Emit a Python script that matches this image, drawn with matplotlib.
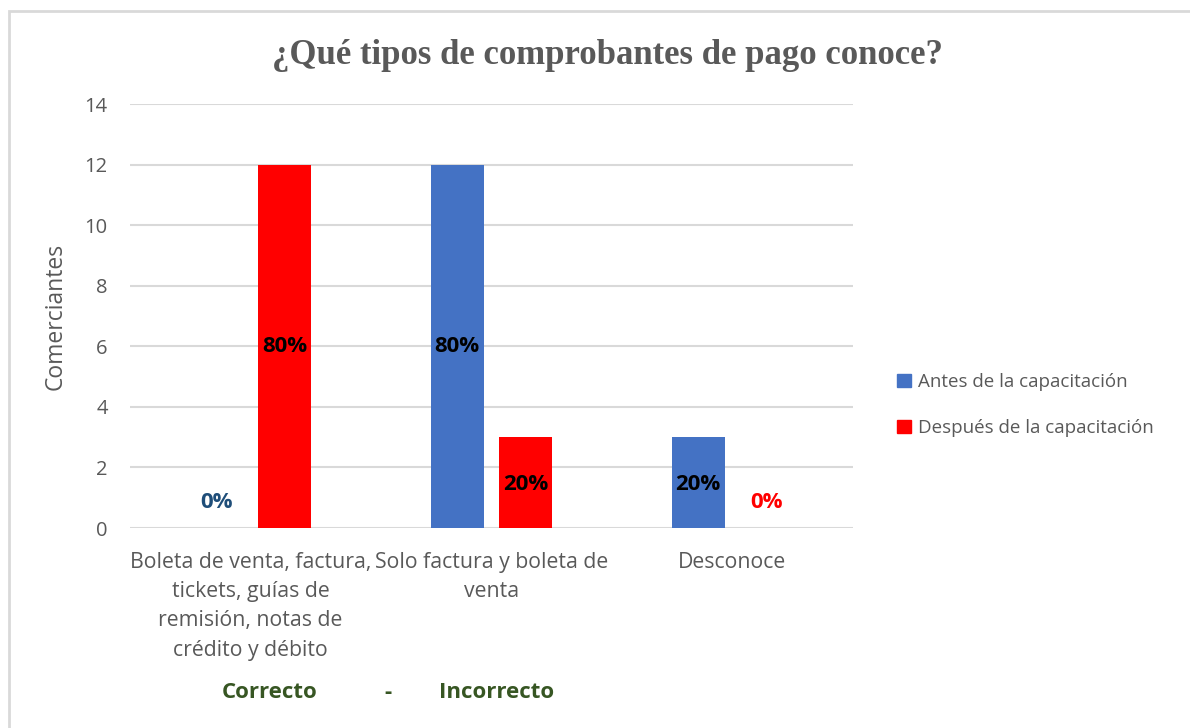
import matplotlib.pyplot as plt
import matplotlib.patches as mpatches
import numpy as np

categories = ["Boleta de venta, factura,\ntickets, guías de\nremisión, notas de\ncrédito y débito",
              "Solo factura y boleta de\nventa",
              "Desconoce"]
antes = [0, 12, 3]
despues = [12, 3, 0]
antes_pct = ["0%", "80%", "20%"]
despues_pct = ["80%", "20%", "0%"]
series_names = ["Antes de la capacitación", "Después de la capacitación"]

BLUE = "#4472C4"
RED = "#FF0000"
GRAY = "#595959"
FONT = "Open Sans"

fig = plt.figure(figsize=(11.9, 7.28), dpi=100)
W, H = 1190, 728
ax = fig.add_axes([130 / W, 1 - 528 / H, (853 - 130) / W, (528 - 104) / H])

# outer chart border
fig.patches.append(mpatches.Rectangle((9 / W, -0.05), 1.1, 1 - 11 / H + 0.05,
                                      transform=fig.transFigure, fill=False,
                                      edgecolor="#D9D9D9", linewidth=2))

x = np.arange(len(categories))
w = 0.22
off = 0.143
b1 = ax.bar(x - off, antes, w, color=BLUE, label=series_names[0], zorder=3)
b2 = ax.bar(x + off, despues, w, color=RED, label=series_names[1], zorder=3)

ax.set_xlim(-0.5, 2.5)
ax.set_ylim(0, 14)
ax.set_yticks(range(0, 15, 2))
ax.yaxis.grid(True, color="#D9D9D9", linewidth=1.5, zorder=0)
for s in ax.spines.values():
    s.set_visible(False)
ax.tick_params(length=0, colors=GRAY, labelsize=14.5, pad=16)
ax.tick_params(axis="x", labelsize=15.3, pad=17)
ax.set_xticks(x)
ax.set_xticklabels(categories, fontfamily=FONT, color=GRAY, linespacing=1.52)
for lb in ax.get_yticklabels():
    lb.set_fontfamily(FONT)
ax.set_ylabel("Comerciantes", fontfamily=FONT, fontsize=16.5, color=GRAY, labelpad=12)

# data labels
for i in range(len(categories)):
    for vals, pcts, sign, zcol in ((antes, antes_pct, -1, "#1F4E79"), (despues, despues_pct, 1, RED)):
        v = vals[i]
        xp = x[i] + sign * off
        if v > 0:
            ax.text(xp, v / 2 if v > 4 else 1.45, pcts[i], ha="center", va="center",
                    fontsize=16, fontweight="bold", fontfamily=FONT, color="black", zorder=4)
        else:
            ax.text(xp, 0.85, pcts[i], ha="center", va="center",
                    fontsize=16, fontweight="bold", fontfamily=FONT, color=zcol, zorder=4)

fig.text(607 / W, 1 - 56 / H, "¿Qué tipos de comprobantes de pago conoce?",
         ha="center", va="center", fontsize=25, fontweight="bold",
         fontfamily="Liberation Serif", color=GRAY)

leg = fig.legend(handles=[mpatches.Patch(color=BLUE), mpatches.Patch(color=RED)],
                 labels=series_names, loc="center left", bbox_to_anchor=(880 / W, 1 - 405 / H),
                 frameon=False, handlelength=0.75, handleheight=0.75, handletextpad=0.4,
                 labelspacing=1.5, prop={"family": FONT, "size": 13.5})
for t in leg.get_texts():
    t.set_color(GRAY)

green = "#375623"
fig.text(270 / W, 1 - 693 / H, "Correcto", ha="center", va="center", fontsize=16,
         fontweight="bold", fontfamily=FONT, color=green)
fig.text(388 / W, 1 - 693 / H, "-", ha="center", va="center", fontsize=16,
         fontweight="bold", fontfamily=FONT, color=green)
fig.text(497 / W, 1 - 693 / H, "Incorrecto", ha="center", va="center", fontsize=16,
         fontweight="bold", fontfamily=FONT, color=green)

fig.savefig("out.png", dpi=100)
